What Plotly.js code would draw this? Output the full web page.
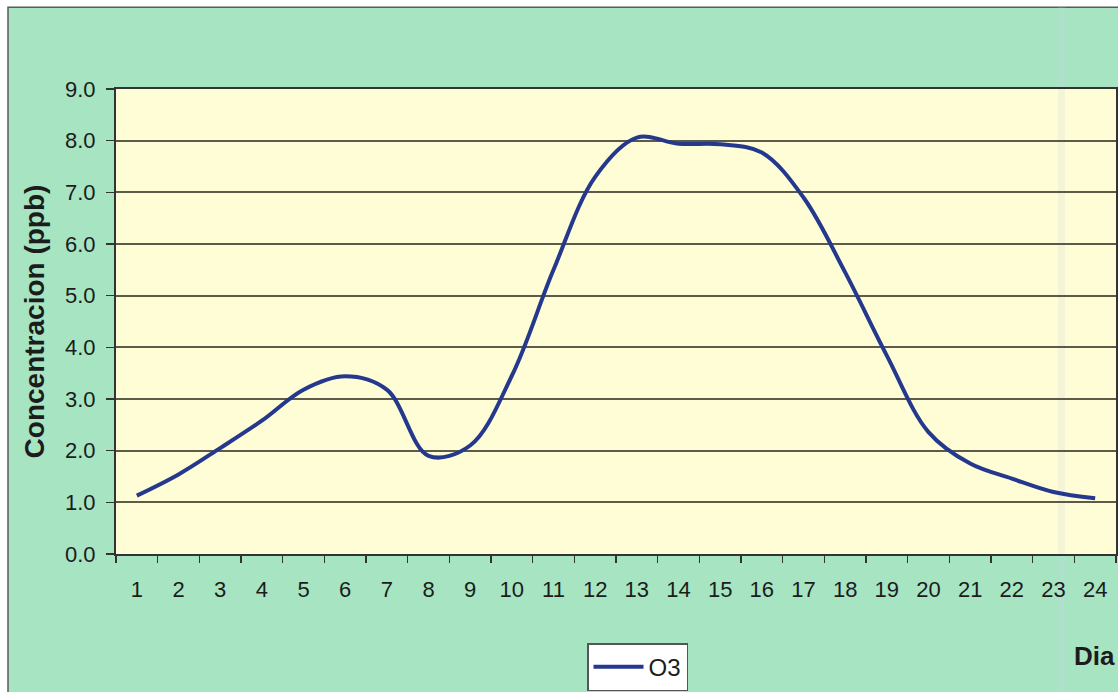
<!DOCTYPE html>
<html>
<head>
<meta charset="utf-8">
<script src="https://cdn.plot.ly/plotly-3.0.1.min.js"></script>
<style>
  html, body { margin: 0; padding: 0; background: #ffffff; }
  #chart { width: 1118px; height: 692px; }
</style>
</head>
<body>
<div id="chart"></div>
<script>
// Hourly ozone concentration (ppb)
const dias = ["1","2","3","4","5","6","7","8","9","10","11","12",
              "13","14","15","16","17","18","19","20","21","22","23","24"];
const o3 = [1.13, 1.54, 2.05, 2.58, 3.18, 3.44, 3.18, 1.9, 2.1, 3.45, 5.5, 7.3,
            8.06, 7.94, 7.93, 7.77, 6.9, 5.45, 3.84, 2.36, 1.75, 1.46, 1.2, 1.08];
const yTicks = [0, 1, 2, 3, 4, 5, 6, 7, 8, 9];

const FONT = "Liberation Sans, Arial, sans-serif";
const GREEN = "#a6e4c2";
const PLOT_BG = "#fffdd6";

const trace = {
  type: "scatter",
  mode: "lines",
  name: "O3",
  x: dias,
  y: o3,
  line: { color: "#24388e", width: 4, shape: "spline", smoothing: 1 }
};

const layout = {
  width: 1118,
  height: 692,
  margin: { l: 116, r: 2, t: 89, b: 137 },
  paper_bgcolor: "#ffffff",
  plot_bgcolor: "rgba(0,0,0,0)",
  font: { family: FONT, color: "#1c1c1c" },
  showlegend: true,
  legend: {
    orientation: "h",
    x: 0.471, xanchor: "left",
    y: -0.189, yanchor: "top",
    bgcolor: "#ffffff",
    bordercolor: "#555555",
    borderwidth: 1.5,
    itemwidth: 50,
    font: { family: FONT, size: 24, color: "#1c1c1c" }
  },
  xaxis: {
    type: "category",
    range: [-0.5, 23.5],
    tickson: "boundaries",
    ticks: "outside",
    ticklen: 7,
    tickwidth: 1.5,
    tickcolor: "#333333",
    showline: true,
    linecolor: "#333333",
    linewidth: 2,
    mirror: true,
    showgrid: false,
    tickfont: { family: FONT, size: 22, color: "#1c1c1c" },
    ticklabelstandoff: 15,
    fixedrange: true
  },
  yaxis: {
    range: [0, 9],
    tickvals: yTicks,
    tickformat: ".1f",
    ticks: "outside",
    ticklen: 8,
    tickwidth: 1.5,
    tickcolor: "#333333",
    showline: true,
    linecolor: "#333333",
    linewidth: 2,
    mirror: true,
    showgrid: true,
    gridcolor: "#5e5a4a",
    gridwidth: 1.7,
    zeroline: false,
    tickfont: { family: FONT, size: 22, color: "#1c1c1c" },
    ticklabelstandoff: 6,
    title: {
      text: "<b>Concentracion (ppb)</b>",
      font: { family: FONT, size: 28, color: "#1c1c1c" },
      standoff: 12
    },
    fixedrange: true
  },
  shapes: [
    // green card behind the whole chart
    {
      type: "rect", xref: "paper", yref: "paper", layer: "below",
      x0: -0.108, x1: 1.05, y0: -0.4, y1: 1.176,
      fillcolor: GREEN, line: { color: "#5a5a5a", width: 1.5 }
    },
    // pale yellow plotting area
    {
      type: "rect", xref: "paper", yref: "paper", layer: "below",
      x0: 0, x1: 1, y0: 0, y1: 1,
      fillcolor: PLOT_BG, line: { width: 0 }
    },
    // faint vertical fold line in the card
    {
      type: "rect", xref: "paper", yref: "paper", layer: "below",
      x0: 0.942, x1: 0.949, y0: -0.4, y1: 1.176,
      fillcolor: "rgba(205,215,228,0.22)", line: { width: 0 }
    }
  ],
  annotations: [
    {
      text: "<b>Dia</b>",
      xref: "paper", yref: "paper",
      x: 0.978, y: -0.219,
      xanchor: "center", yanchor: "middle",
      showarrow: false,
      font: { family: FONT, size: 26, color: "#1c1c1c" }
    }
  ]
};

Plotly.newPlot("chart", [trace], layout, { displayModeBar: false, staticPlot: true });
</script>
</body>
</html>
